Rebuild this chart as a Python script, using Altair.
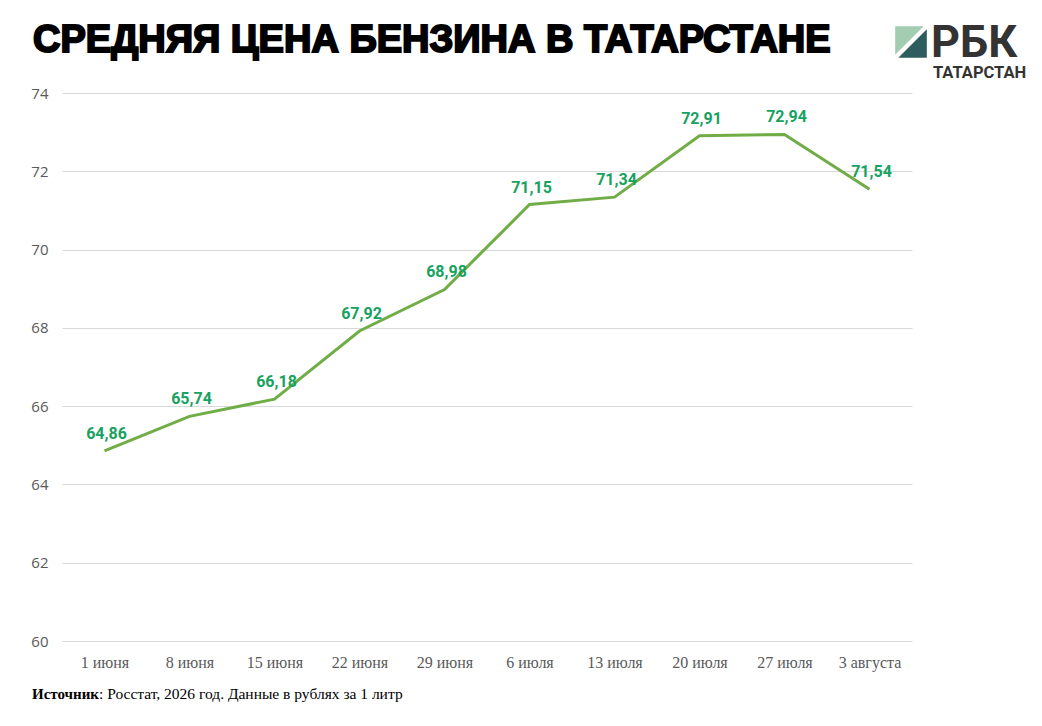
import pandas as pd
import altair as alt

# Data
dates = ['1 июня', '8 июня', '15 июня', '22 июня', '29 июня',
         '6 июля', '13 июля', '20 июля', '27 июля', '3 августа']
prices = [64.86, 65.74, 66.18, 67.92, 68.98, 71.15, 71.34, 72.91, 72.94, 71.54]
y_ticks = [60, 62, 64, 66, 68, 70, 72, 74]

title_text = 'СРЕДНЯЯ ЦЕНА БЕНЗИНА В ТАТАРСТАНЕ'
source_bold = 'Источник'
source_rest = ': Росстат, 2026 год. Данные в рублях за 1 литр'

df = pd.DataFrame({'date': dates, 'price': prices})
df['label'] = df['price'].map(lambda v: f'{v:.2f}'.replace('.', ','))
one = pd.DataFrame({'k': [0]})

x = alt.X('date:N', sort=dates, title=None,
          scale=alt.Scale(type='point', padding=0.5),
          axis=alt.Axis(labelFont='Liberation Serif', labelFontSize=16, labelColor='#595959',
                        labelAngle=0, labelPadding=13, ticks=False, domain=False, grid=False))
y = alt.Y('price:Q', title=None, scale=alt.Scale(domain=[60, 74], nice=False, zero=False),
          axis=alt.Axis(values=y_ticks, labelFont='Open Sans', labelFontSize=15, labelColor='#595959',
                        labelPadding=14, ticks=False, domain=False,
                        gridColor='#d9d9d9', gridWidth=1))

line = alt.Chart(df).mark_line(color='#70AD47', strokeWidth=3).encode(x=x, y=y)

labels = alt.Chart(df).mark_text(
    font='Roboto', fontWeight='bold', fontSize=16, color='#17a25f',
    baseline='bottom', dy=-9, dx=2
).encode(x=x, y=y, text='label:N')

title = alt.Chart(one).mark_text(
    text=title_text, font='Liberation Sans', fontWeight='bold', fontSize=38,
    stroke='black', strokeWidth=2, color='black', align='left', baseline='alphabetic'
).encode(x=alt.value(-29), y=alt.value(-41))

src1 = alt.Chart(one).mark_text(
    text=source_bold, font='Liberation Serif', fontWeight='bold', fontSize=15,
    color='black', align='left', baseline='alphabetic'
).encode(x=alt.value(-30), y=alt.value(606))
src2 = alt.Chart(one).mark_text(
    text=source_rest, font='Liberation Serif', fontSize=15.5,
    color='black', align='left', baseline='alphabetic'
).encode(x=alt.value(37), y=alt.value(606))

# logo
tri_light = alt.Chart(one).mark_point(
    shape='M -1 -1 L 0.8 -1 L -1 0.8 Z', filled=True, size=1000, opacity=1,
    color='#a3cdb0', strokeWidth=0
).encode(x=alt.value(849), y=alt.value(-51))
tri_dark = alt.Chart(one).mark_point(
    shape='M 1 -0.8 L 1 1 L -0.8 1 Z', filled=True, size=1000, opacity=1,
    color='#2d5d5f', strokeWidth=0
).encode(x=alt.value(849), y=alt.value(-51))
logo_big = alt.Chart(one).mark_text(
    text='РБК', font='Roboto', fontWeight='bold', fontSize=45, color='#333333',
    align='left', baseline='alphabetic'
).encode(x=alt.value(869), y=alt.value(-36))
logo_small = alt.Chart(one).mark_text(
    text='ТАТАРСТАН', font='Roboto', fontWeight='bold', fontSize=16.5, color='#333333',
    align='left', baseline='alphabetic'
).encode(x=alt.value(871), y=alt.value(-15))

chart = alt.layer(line, labels, title, src1, src2, tri_light, tri_dark, logo_big, logo_small).properties(
    width=850, height=548,
    autosize=alt.AutoSizeParams(type='none'),
    padding={'left': 54, 'top': 85, 'right': 122, 'bottom': 77}
).configure_view(stroke=None)

chart.save('out.html', embed_options={'renderer': 'svg', 'actions': False})
